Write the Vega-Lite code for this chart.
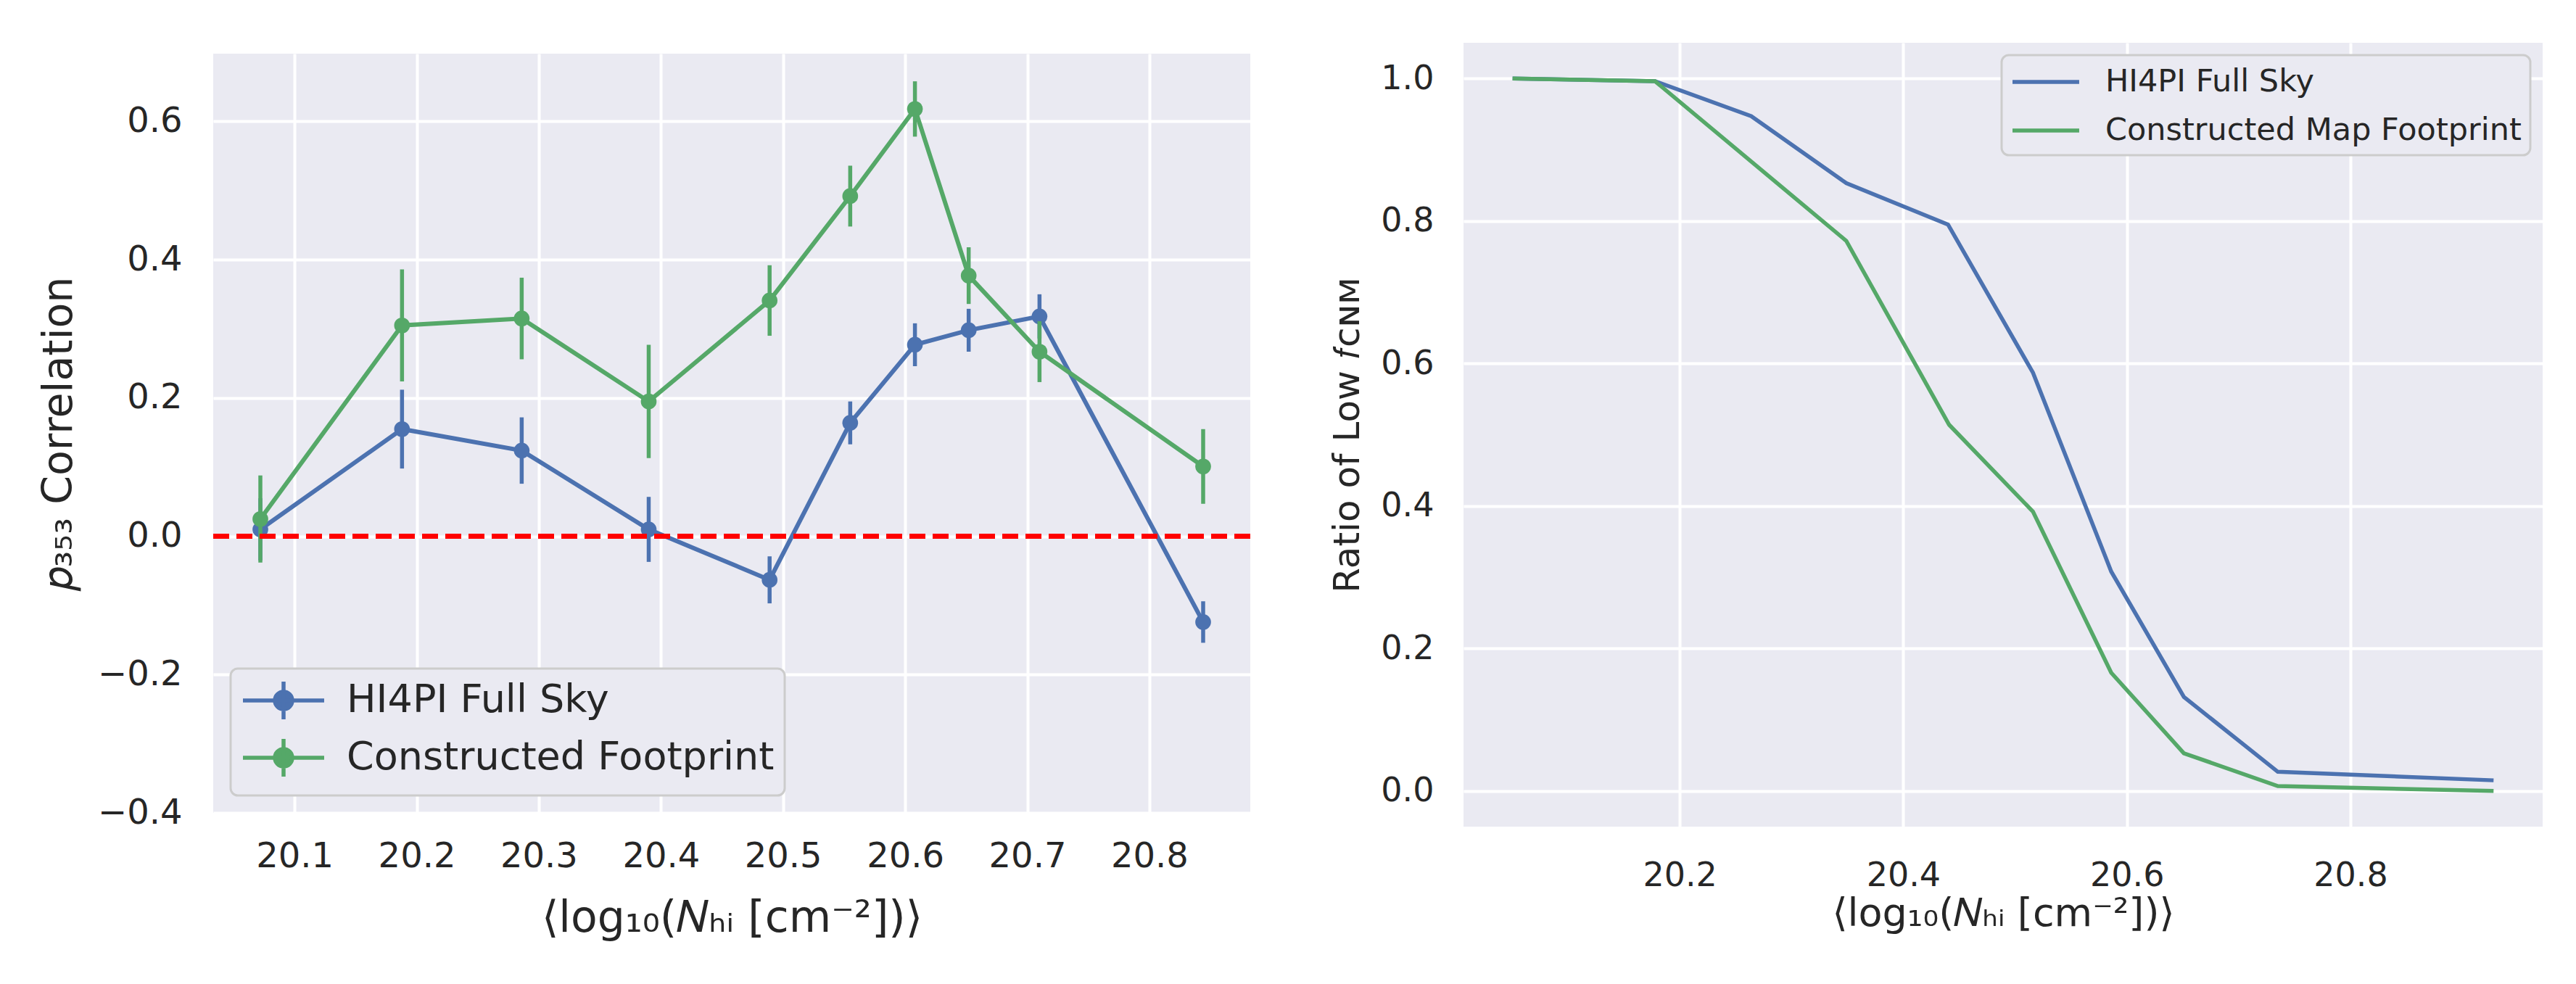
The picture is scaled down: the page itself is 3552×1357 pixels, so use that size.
{
  "$schema": "https://vega.github.io/schema/vega-lite/v6.json",
  "background": "white",
  "padding": {"left": 52, "top": 59, "right": 59, "bottom": 10},
  "config": {
    "font": "DejaVu Sans",
    "view": {"fill": "#EAEAF2", "stroke": null},
    "axis": {
      "domain": false, "ticks": false, "tickSize": 0, "grid": true,
      "gridColor": "white", "gridWidth": 4,
      "labelColor": "#262626", "titleColor": "#262626",
      "titleFontWeight": "normal", "labelFont": "DejaVu Sans", "titleFont": "DejaVu Sans"
    },
    "legend": {
      "title": null, "labelColor": "#262626", "labelFont": "DejaVu Sans", "labelLimit": 0,
      "fillColor": "#EAEAF2", "strokeColor": "#CCCCCC", "strokeWidth": 3, "cornerRadius": 10
    }
  },
  "datasets": {
    "corr": [
      {"s": "HI4PI Full Sky", "x": 20.072, "y": 0.010, "lo": -0.035, "hi": 0.055},
      {"s": "HI4PI Full Sky", "x": 20.188, "y": 0.155, "lo": 0.098, "hi": 0.212},
      {"s": "HI4PI Full Sky", "x": 20.286, "y": 0.124, "lo": 0.076, "hi": 0.172},
      {"s": "HI4PI Full Sky", "x": 20.390, "y": 0.010, "lo": -0.037, "hi": 0.057},
      {"s": "HI4PI Full Sky", "x": 20.489, "y": -0.063, "lo": -0.097, "hi": -0.029},
      {"s": "HI4PI Full Sky", "x": 20.555, "y": 0.164, "lo": 0.133, "hi": 0.195},
      {"s": "HI4PI Full Sky", "x": 20.608, "y": 0.277, "lo": 0.246, "hi": 0.308},
      {"s": "HI4PI Full Sky", "x": 20.652, "y": 0.298, "lo": 0.267, "hi": 0.329},
      {"s": "HI4PI Full Sky", "x": 20.710, "y": 0.318, "lo": 0.286, "hi": 0.350},
      {"s": "HI4PI Full Sky", "x": 20.844, "y": -0.124, "lo": -0.154, "hi": -0.094},
      {"s": "Constructed Footprint", "x": 20.072, "y": 0.025, "lo": -0.038, "hi": 0.088},
      {"s": "Constructed Footprint", "x": 20.188, "y": 0.305, "lo": 0.224, "hi": 0.386},
      {"s": "Constructed Footprint", "x": 20.286, "y": 0.315, "lo": 0.256, "hi": 0.374},
      {"s": "Constructed Footprint", "x": 20.390, "y": 0.195, "lo": 0.113, "hi": 0.277},
      {"s": "Constructed Footprint", "x": 20.489, "y": 0.341, "lo": 0.290, "hi": 0.392},
      {"s": "Constructed Footprint", "x": 20.555, "y": 0.492, "lo": 0.448, "hi": 0.536},
      {"s": "Constructed Footprint", "x": 20.608, "y": 0.618, "lo": 0.578, "hi": 0.658},
      {"s": "Constructed Footprint", "x": 20.652, "y": 0.377, "lo": 0.336, "hi": 0.418},
      {"s": "Constructed Footprint", "x": 20.710, "y": 0.267, "lo": 0.223, "hi": 0.311},
      {"s": "Constructed Footprint", "x": 20.844, "y": 0.101, "lo": 0.047, "hi": 0.155}
    ],
    "fcnm": [
      {"s": "HI4PI Full Sky", "x": 20.0505, "y": 1.000},
      {"s": "HI4PI Full Sky", "x": 20.178, "y": 0.996},
      {"s": "HI4PI Full Sky", "x": 20.264, "y": 0.947},
      {"s": "HI4PI Full Sky", "x": 20.349, "y": 0.853},
      {"s": "HI4PI Full Sky", "x": 20.440, "y": 0.795},
      {"s": "HI4PI Full Sky", "x": 20.516, "y": 0.587},
      {"s": "HI4PI Full Sky", "x": 20.586, "y": 0.308},
      {"s": "HI4PI Full Sky", "x": 20.651, "y": 0.132},
      {"s": "HI4PI Full Sky", "x": 20.735, "y": 0.027},
      {"s": "HI4PI Full Sky", "x": 20.928, "y": 0.015},
      {"s": "Constructed Map Footprint", "x": 20.0505, "y": 1.000},
      {"s": "Constructed Map Footprint", "x": 20.178, "y": 0.996},
      {"s": "Constructed Map Footprint", "x": 20.349, "y": 0.772},
      {"s": "Constructed Map Footprint", "x": 20.441, "y": 0.514},
      {"s": "Constructed Map Footprint", "x": 20.516, "y": 0.392},
      {"s": "Constructed Map Footprint", "x": 20.586, "y": 0.166},
      {"s": "Constructed Map Footprint", "x": 20.651, "y": 0.053},
      {"s": "Constructed Map Footprint", "x": 20.735, "y": 0.007},
      {"s": "Constructed Map Footprint", "x": 20.928, "y": 0.000}
    ]
  },
  "spacing": 106,
  "center": true,
  "resolve": {"scale": {"color": "independent"}, "legend": {"color": "independent"}},
  "hconcat": [
    {
      "width": 1430,
      "height": 1047,
      "data": {"name": "corr"},
      "encoding": {
        "x": {
          "field": "x", "type": "quantitative",
          "scale": {"domain": [20.0334, 20.8826], "zero": false, "nice": false},
          "axis": {
            "values": [20.1, 20.2, 20.3, 20.4, 20.5, 20.6, 20.7, 20.8], "format": ".1f",
            "labelFontSize": 48, "labelPadding": 36,
            "title": "⟨log₁₀(𝑁ₕᵢ [cm⁻²])⟩", "titleFontSize": 60, "titlePadding": 32
          }
        },
        "y": {
          "field": "y", "type": "quantitative",
          "scale": {"domain": [-0.4, 0.698], "zero": false, "nice": false},
          "axis": {
            "values": [-0.4, -0.2, 0, 0.2, 0.4, 0.6], "format": ".1f",
            "labelFontSize": 48, "labelPadding": 43,
            "title": "𝑝₃₅₃ Correlation", "titleFontSize": 57, "titlePadding": 24
          }
        },
        "color": {
          "field": "s", "type": "nominal",
          "scale": {"domain": ["HI4PI Full Sky", "Constructed Footprint"], "range": ["#4C72B0", "#55A868"]},
          "legend": {
            "orient": "bottom-left", "offset": 24, "labelFontSize": 54,
            "symbolType": "M-1,0L3.148,0M1.074,-0.963L1.074,0.963M0.63,0A0.444,0.444,0,1,0,1.518,0A0.444,0.444,0,1,0,0.63,0Z",
            "symbolSize": 2916, "symbolStrokeWidth": 5.5, "labelOffset": 86,
            "padding": 14, "rowPadding": 3,
            "encode": {
              "symbols": {
                "update": {
                  "fill": {"signal": "datum.value === 'HI4PI Full Sky' ? '#4C72B0' : '#55A868'"},
                  "stroke": {"signal": "datum.value === 'HI4PI Full Sky' ? '#4C72B0' : '#55A868'"}
                }
              }
            }
          }
        }
      },
      "layer": [
        {
          "transform": [{"filter": "datum.s === 'HI4PI Full Sky'"}],
          "layer": [
            {"mark": {"type": "line", "strokeWidth": 6}},
            {"mark": {"type": "rule", "strokeWidth": 5.5}, "encoding": {"y": {"field": "lo"}, "y2": {"field": "hi"}}},
            {"mark": {"type": "point", "filled": true, "opacity": 1, "size": 470}}
          ]
        },
        {
          "transform": [{"filter": "datum.s === 'Constructed Footprint'"}],
          "layer": [
            {"mark": {"type": "line", "strokeWidth": 6}},
            {"mark": {"type": "rule", "strokeWidth": 5.5}, "encoding": {"y": {"field": "lo"}, "y2": {"field": "hi"}}},
            {"mark": {"type": "point", "filled": true, "opacity": 1, "size": 470}}
          ]
        },
        {
          "mark": {"type": "rule", "color": "#FF0000", "strokeWidth": 5.5, "strokeDash": [22, 10]},
          "encoding": {"x": null, "color": null, "y": {"datum": 0}}
        }
      ]
    },
    {
      "width": 1488,
      "height": 1081,
      "data": {"name": "fcnm"},
      "mark": {"type": "line", "strokeWidth": 5.5},
      "encoding": {
        "x": {
          "field": "x", "type": "quantitative",
          "scale": {"domain": [20.0066, 20.9719], "zero": false, "nice": false},
          "axis": {
            "values": [20.2, 20.4, 20.6, 20.8], "format": ".1f",
            "labelFontSize": 46, "labelPadding": 45,
            "title": ["⟨log₁₀(𝑁ₕᵢ [cm⁻²])⟩", " "], "titleFontSize": 54, "titleLineHeight": 24, "titlePadding": 3
          }
        },
        "y": {
          "field": "y", "type": "quantitative",
          "scale": {"domain": [-0.05, 1.05], "zero": false, "nice": false},
          "axis": {
            "values": [0, 0.2, 0.4, 0.6, 0.8, 1.0], "format": ".1f",
            "labelFontSize": 46, "labelPadding": 41,
            "title": "Ratio of Low 𝑓ᴄɴᴍ", "titleFontSize": 50, "titlePadding": 20
          }
        },
        "color": {
          "field": "s", "type": "nominal",
          "scale": {"domain": ["HI4PI Full Sky", "Constructed Map Footprint"], "range": ["#4C72B0", "#55A868"]},
          "legend": {
            "orient": "top-right", "offset": 17, "labelFontSize": 43,
            "symbolType": "M-1,0L3.18,0", "symbolSize": 1936, "symbolStrokeWidth": 5.5,
            "labelOffset": 81, "padding": 12, "rowPadding": 20
          }
        }
      }
    }
  ]
}
